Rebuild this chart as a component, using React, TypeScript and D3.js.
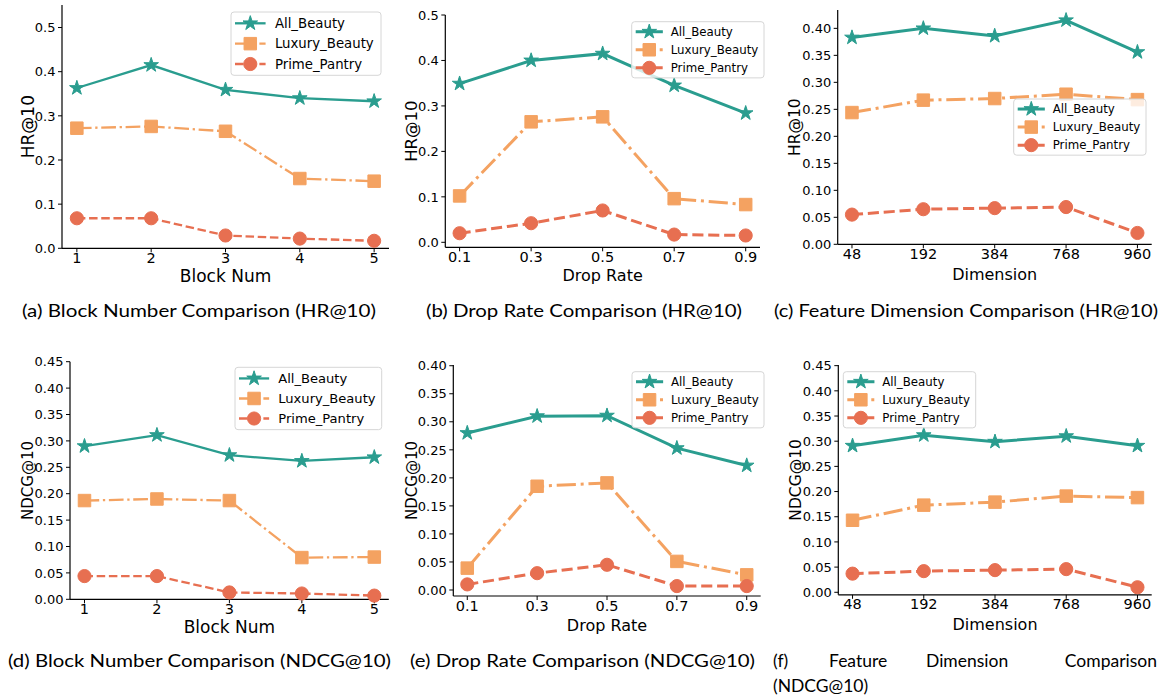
import React from "react";
import * as d3 from "d3";

const seriesNames = ["All_Beauty", "Luxury_Beauty", "Prime_Pantry"];
const seriesColors = ["#2a9d8f", "#f4a261", "#e76f51"];

const blockNums = ["1", "2", "3", "4", "5"];
const dropRates = ["0.1", "0.3", "0.5", "0.7", "0.9"];
const dimensions = ["48", "192", "384", "768", "960"];

// HR@10
const hrBlockAll = [0.363, 0.415, 0.359, 0.340, 0.333];
const hrBlockLux = [0.272, 0.276, 0.265, 0.158, 0.152];
const hrBlockPrime = [0.068, 0.068, 0.029, 0.022, 0.017];

const hrDropAll = [0.349, 0.400, 0.415, 0.345, 0.284];
const hrDropLux = [0.102, 0.265, 0.276, 0.096, 0.083];
const hrDropPrime = [0.020, 0.042, 0.070, 0.017, 0.015];

const hrDimAll = [0.383, 0.400, 0.386, 0.415, 0.356];
const hrDimLux = [0.244, 0.267, 0.270, 0.278, 0.268];
const hrDimPrime = [0.055, 0.065, 0.067, 0.069, 0.021];

// NDCG@10
const ndcgBlockAll = [0.290, 0.311, 0.273, 0.262, 0.269];
const ndcgBlockLux = [0.187, 0.190, 0.187, 0.079, 0.080];
const ndcgBlockPrime = [0.044, 0.044, 0.013, 0.011, 0.007];

const ndcgDropAll = [0.280, 0.310, 0.311, 0.253, 0.222];
const ndcgDropLux = [0.039, 0.185, 0.191, 0.051, 0.027];
const ndcgDropPrime = [0.010, 0.030, 0.045, 0.007, 0.007];

const ndcgDimAll = [0.291, 0.312, 0.299, 0.310, 0.291];
const ndcgDimLux = [0.143, 0.173, 0.179, 0.191, 0.188];
const ndcgDimPrime = [0.037, 0.042, 0.044, 0.046, 0.010];

const ticksTenth = [0, 0.1, 0.2, 0.3, 0.4, 0.5];
const ticks040 = [0, 0.05, 0.1, 0.15, 0.2, 0.25, 0.3, 0.35, 0.4];
const ticks045 = [0, 0.05, 0.1, 0.15, 0.2, 0.25, 0.3, 0.35, 0.4, 0.45];

const captions = [
  "(a) Block Number Comparison (HR@10)",
  "(b) Drop Rate Comparison (HR@10)",
  "(c) Feature Dimension Comparison (HR@10)",
  "(d) Block Number Comparison (NDCG@10)",
  "(e) Drop Rate Comparison (NDCG@10)",
];
const captionF = ["(f)", "Feature", "Dimension", "Comparison", "(NDCG@10)"];

interface PanelSpec {
  frame: { left: number; right: number; top: number; bottom: number };
  xLabels: string[];
  yDomain: [number, number];
  yTicks: number[];
  yFormat: string;
  values: number[][];
  xLabel: string;
  yLabel: string;
  lw: number;
  yLabelFs: number;
  xLabelFs: number;
  yLabelGap: number;
  xLabelGap: number;
  legend: { x: number; y: number; w: number; fs: number };
}

const panels: PanelSpec[] = [
  {
    frame: { left: 62, right: 389, top: 5, bottom: 248.3 },
    xLabels: blockNums, yDomain: [0, 0.551], yTicks: ticksTenth, yFormat: ".1f",
    values: [hrBlockAll, hrBlockLux, hrBlockPrime],
    xLabel: "Block Num", yLabel: "HR@10", lw: 2.3, yLabelFs: 17, xLabelFs: 17,
    yLabelGap: 28, xLabelGap: 33.5,
    legend: { x: 231, y: 12, w: 150, fs: 13.3 },
  },
  {
    frame: { left: 445.3, right: 760, top: 15, bottom: 247.3 },
    xLabels: dropRates, yDomain: [-0.011, 0.5], yTicks: ticksTenth, yFormat: ".1f",
    values: [hrDropAll, hrDropLux, hrDropPrime],
    xLabel: "Drop Rate", yLabel: "HR@10", lw: 3, yLabelFs: 16.5, xLabelFs: 16,
    yLabelGap: 28.6, xLabelGap: 34,
    legend: { x: 631.7, y: 21.7, w: 132.3, fs: 11.8 },
  },
  {
    frame: { left: 837.7, right: 1151.7, top: 10, bottom: 244.3 },
    xLabels: dimensions, yDomain: [0, 0.434], yTicks: ticks040, yFormat: ".2f",
    values: [hrDimAll, hrDimLux, hrDimPrime],
    xLabel: "Dimension", yLabel: "HR@10", lw: 3, yLabelFs: 15.5, xLabelFs: 16,
    yLabelGap: 37.7, xLabelGap: 36,
    legend: { x: 1013.7, y: 99, w: 132.3, fs: 11.8 },
  },
  {
    frame: { left: 70, right: 388.8, top: 361.7, bottom: 599.3 },
    xLabels: blockNums, yDomain: [0, 0.45], yTicks: ticks045, yFormat: ".2f",
    values: [ndcgBlockAll, ndcgBlockLux, ndcgBlockPrime],
    xLabel: "Block Num", yLabel: "NDCG@10", lw: 2.3, yLabelFs: 15, xLabelFs: 17,
    yLabelGap: 37.3, xLabelGap: 33.5,
    legend: { x: 235, y: 367.3, w: 146.7, fs: 13.1 },
  },
  {
    frame: { left: 453.3, right: 760.7, top: 365, bottom: 596 },
    xLabels: dropRates, yDomain: [-0.0107, 0.4013], yTicks: ticks040, yFormat: ".2f",
    values: [ndcgDropAll, ndcgDropLux, ndcgDropPrime],
    xLabel: "Drop Rate", yLabel: "NDCG@10", lw: 3, yLabelFs: 15, xLabelFs: 16,
    yLabelGap: 36.6, xLabelGap: 35,
    legend: { x: 632, y: 371.7, w: 132, fs: 11.8 },
  },
  {
    frame: { left: 838.3, right: 1151.7, top: 365, bottom: 594.8 },
    xLabels: dimensions, yDomain: [-0.005, 0.4513], yTicks: ticks045, yFormat: ".2f",
    values: [ndcgDimAll, ndcgDimLux, ndcgDimPrime],
    xLabel: "Dimension", yLabel: "NDCG@10", lw: 3, yLabelFs: 15.5, xLabelFs: 16,
    yLabelGap: 37.3, xLabelGap: 35,
    legend: { x: 843.3, y: 371.7, w: 132.4, fs: 11.8 },
  },
];

const FONT = "'DejaVu Sans', sans-serif";

function dashFor(i: number, lw: number): string | undefined {
  if (i === 1) return [6.4, 1.6, 1, 1.6].map((d) => d * lw).join(",");
  if (i === 2) return [3.7, 1.6].map((d) => d * lw).join(",");
  return undefined;
}

const symbols = [
  d3.symbol().type(d3.symbolStar).size(66)(),
  d3.symbol().type(d3.symbolSquare).size(156)(),
  d3.symbol().type(d3.symbolCircle).size(136)(),
];

function Marker({ i, x, y }: { i: number; x: number; y: number }) {
  return (
    <path
      d={symbols[i] || ""}
      transform={`translate(${x},${y})`}
      fill={seriesColors[i]}
      stroke={seriesColors[i]}
      strokeWidth={1}
    />
  );
}

function Panel({ spec }: { spec: PanelSpec }) {
  const { left, right, top, bottom } = spec.frame;
  const x = d3.scalePoint<string>().domain(spec.xLabels).range([left, right]).padding(0.2);
  const y = d3.scaleLinear().domain(spec.yDomain).range([bottom, top]);
  const fmt = d3.format(spec.yFormat);
  const line = d3
    .line<number>()
    .x((_, j) => x(spec.xLabels[j]) as number)
    .y((d) => y(d));

  const lg = spec.legend;
  const pad = lg.fs * 0.85;
  const rowH = lg.fs * 1.53;
  const hStart = 4;
  const hLen = lg.fs * 2.3;
  const tx = lg.fs * 3.3;
  const lgH = pad * 2 + rowH * 2;

  return (
    <g>
      {/* spines */}
      <line x1={left} x2={left} y1={top} y2={bottom} stroke="#000" strokeWidth={1.2} />
      <line x1={left} x2={right} y1={bottom} y2={bottom} stroke="#000" strokeWidth={1.2} />
      {/* y ticks */}
      {spec.yTicks.map((t) => (
        <g key={t}>
          <line x1={left - 4} x2={left} y1={y(t)} y2={y(t)} stroke="#000" strokeWidth={1} />
          <text x={left - 6.5} y={y(t)} dy="0.36em" textAnchor="end" fontSize={13} fontFamily={FONT} fill="#000">
            {fmt(t)}
          </text>
        </g>
      ))}
      {/* x ticks */}
      {spec.xLabels.map((t) => (
        <g key={t}>
          <line x1={x(t)} x2={x(t)} y1={bottom} y2={bottom + 4} stroke="#000" strokeWidth={1} />
          <text x={x(t)} y={bottom + 14.5} textAnchor="middle" fontSize={14.5} fontFamily={FONT} fill="#000">
            {t}
          </text>
        </g>
      ))}
      <text
        x={(left + right) / 2}
        y={bottom + spec.xLabelGap}
        textAnchor="middle"
        fontSize={spec.xLabelFs}
        fontFamily={FONT}
      >
        {spec.xLabel}
      </text>
      <text
        transform={`translate(${left - spec.yLabelGap},${(top + bottom) / 2}) rotate(-90)`}
        textAnchor="middle"
        fontSize={spec.yLabelFs}
        fontFamily={FONT}
      >
        {spec.yLabel}
      </text>
      {/* series */}
      {spec.values.map((vals, i) => (
        <g key={i}>
          <path
            d={line(vals) || ""}
            fill="none"
            stroke={seriesColors[i]}
            strokeWidth={spec.lw}
            strokeDasharray={dashFor(i, spec.lw)}
          />
          {vals.map((v, j) => (
            <Marker key={j} i={i} x={x(spec.xLabels[j]) as number} y={y(v)} />
          ))}
        </g>
      ))}
      {/* legend */}
      <rect x={lg.x} y={lg.y} width={lg.w} height={lgH} rx={3} fill="#fff" fillOpacity={0.8} stroke="#d6d6d6" strokeWidth={1} />
      {seriesNames.map((name, i) => {
        const ry = lg.y + pad + rowH * i;
        return (
          <g key={name}>
            <line
              x1={lg.x + hStart}
              x2={lg.x + hStart + hLen}
              y1={ry}
              y2={ry}
              stroke={seriesColors[i]}
              strokeWidth={spec.lw}
              strokeDasharray={dashFor(i, spec.lw)}
            />
            <Marker i={i} x={lg.x + hStart + hLen / 2} y={ry} />
            <text x={lg.x + tx} y={ry} dy="0.36em" fontSize={lg.fs} fontFamily={FONT} fill="#000">
              {name}
            </text>
          </g>
        );
      })}
    </g>
  );
}

const CAP_FONT = "Lato, 'Noto Sans', sans-serif";

export default function App() {
  const capPos = [
    { x: 22, w: 354, y: 317 },
    { x: 426, w: 316, y: 317 },
    { x: 774, w: 384, y: 317 },
    { x: 8, w: 383, y: 667 },
    { x: 410, w: 345, y: 667 },
  ];
  const fPos = [773, 829, 926, 1157];
  return (
    <svg
      width={1166}
      height={700}
      style={{ position: "absolute", left: 0, top: 0, background: "#fff" }}
    >
      <rect width={1166} height={700} fill="#fff" />
      {panels.map((p, i) => (
        <Panel key={i} spec={p} />
      ))}
      {captions.map((c, i) => (
        <text
          key={c}
          x={capPos[i].x}
          y={capPos[i].y}
          fontSize={17.5}
          fontFamily={CAP_FONT}
          textLength={capPos[i].w}
          lengthAdjust="spacingAndGlyphs"
          fill="#000"
        >
          {c}
        </text>
      ))}
      {captionF.slice(0, 4).map((w, i) => (
        <text
          key={w}
          x={fPos[i]}
          y={667}
          textAnchor={i === 3 ? "end" : "start"}
          fontSize={17.5}
          fontFamily={CAP_FONT}
          fill="#000"
        >
          {w}
        </text>
      ))}
      <text x={773} y={692} fontSize={17.5} fontFamily={CAP_FONT} fill="#000">
        {captionF[4]}
      </text>
    </svg>
  );
}
